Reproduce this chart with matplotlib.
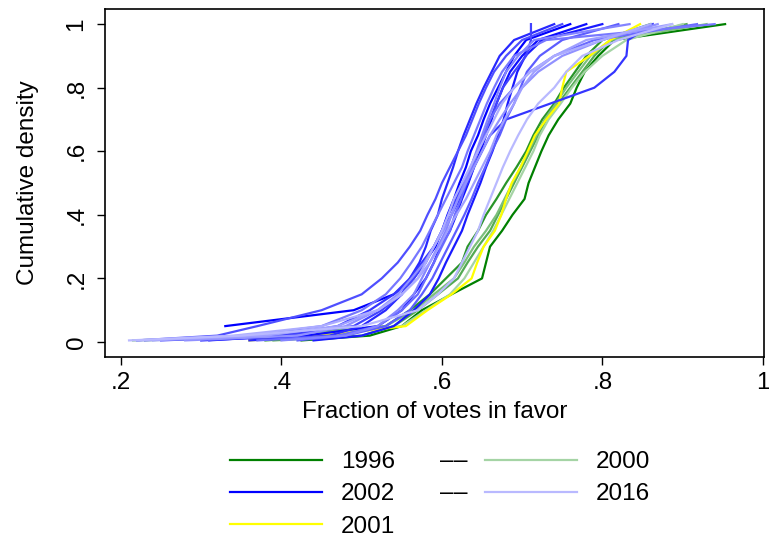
import numpy as np
import matplotlib
matplotlib.use("Agg")
import matplotlib.pyplot as plt
from matplotlib.lines import Line2D

plt.rcParams['font.family'] = ['Liberation Sans', 'DejaVu Sans']

# cumulative density levels shared by every year
levels = [0.005, 0.02, 0.05, 0.1, 0.15, 0.2, 0.25, 0.3, 0.35, 0.4, 0.45,
          0.5, 0.55, 0.6, 0.65, 0.7, 0.75, 0.8, 0.85, 0.9, 0.95, 1.0]

# fraction of votes in favor reached at each level
v1996 = [0.425, 0.51, 0.55, 0.575, 0.612, 0.65, 0.655, 0.66, 0.675, 0.688, 0.703,
         0.708, 0.716, 0.724, 0.733, 0.745, 0.76, 0.768, 0.778, 0.795, 0.815, 0.953]
v1997 = [0.38, 0.47, 0.53, 0.56, 0.585, 0.605, 0.625, 0.632, 0.645, 0.655, 0.668,
         0.68, 0.693, 0.705, 0.714, 0.725, 0.74, 0.752, 0.766, 0.78, 0.8, 0.86]
v1998 = [0.39, 0.5, 0.54, 0.57, 0.595, 0.62, 0.632, 0.645, 0.66, 0.67, 0.68,
         0.69, 0.7, 0.71, 0.72, 0.73, 0.745, 0.76, 0.775, 0.79, 0.81, 0.905]
v1999 = [0.215, 0.39, 0.53, 0.565, 0.59, 0.615, 0.628, 0.64, 0.655, 0.668, 0.678,
         0.688, 0.698, 0.708, 0.718, 0.728, 0.742, 0.755, 0.77, 0.785, 0.81, 0.93]
v2000 = [0.23, 0.43, 0.55, 0.58, 0.61, 0.628, 0.64, 0.652, 0.664, 0.674, 0.684,
         0.694, 0.704, 0.714, 0.722, 0.733, 0.748, 0.762, 0.778, 0.8, 0.83, 0.9]
v2001 = [0.36, 0.45, 0.555, 0.582, 0.612, 0.637, 0.644, 0.652, 0.666, 0.674, 0.68,
         0.687, 0.698, 0.707, 0.716, 0.73, 0.746, 0.75, 0.755, 0.784, 0.81, 0.847]
v2002 = [np.nan, np.nan, 0.33, 0.49, 0.54, 0.565, 0.578, 0.592, 0.6, 0.607, 0.615,
         0.622, 0.63, 0.636, 0.645, 0.652, 0.66, 0.67, 0.68, 0.69, 0.705, 0.76]
v2003 = [0.3, 0.43, 0.52, 0.55, 0.565, 0.58, 0.59, 0.598, 0.61, 0.618, 0.625,
         0.633, 0.64, 0.648, 0.655, 0.662, 0.668, 0.676, 0.685, 0.7, 0.72, 0.78]
v2004 = [0.44, 0.5, 0.54, 0.565, 0.585, 0.596, 0.605, 0.615, 0.625, 0.632, 0.64,
         0.648, 0.655, 0.663, 0.67, 0.677, 0.682, 0.688, 0.694, 0.704, 0.725, 0.8]
v2005 = [0.36, 0.46, 0.5, 0.53, 0.55, 0.56, 0.572, 0.58, 0.586, 0.595, 0.6,
         0.607, 0.614, 0.62, 0.627, 0.635, 0.643, 0.652, 0.662, 0.672, 0.69, 0.74]
v2006 = [0.31, 0.4, 0.47, 0.51, 0.54, 0.56, 0.575, 0.59, 0.6, 0.612, 0.622,
         0.632, 0.64, 0.65, 0.66, 0.68, 0.735, 0.79, 0.815, 0.83, 0.832, 0.863]
v2007 = [0.25, 0.4, 0.49, 0.525, 0.55, 0.565, 0.58, 0.59, 0.6, 0.608, 0.618,
         0.626, 0.636, 0.644, 0.652, 0.66, 0.668, 0.676, 0.69, 0.705, 0.711, 0.711]
v2008 = [0.22, 0.32, 0.37, 0.45, 0.5, 0.525, 0.545, 0.56, 0.573, 0.582, 0.592,
         0.6, 0.61, 0.62, 0.63, 0.638, 0.646, 0.655, 0.665, 0.68, 0.7, 0.75]
v2009 = [0.42, 0.48, 0.53, 0.56, 0.575, 0.588, 0.598, 0.608, 0.618, 0.628, 0.637,
         0.645, 0.654, 0.662, 0.672, 0.68, 0.69, 0.698, 0.706, 0.722, 0.75, 0.82]
v2010 = [0.37, 0.47, 0.52, 0.55, 0.57, 0.58, 0.59, 0.6, 0.61, 0.616, 0.624,
         0.63, 0.638, 0.645, 0.652, 0.66, 0.672, 0.69, 0.71, 0.74, 0.79, 0.918]
v2011 = [0.23, 0.36, 0.45, 0.5, 0.53, 0.548, 0.562, 0.575, 0.585, 0.595, 0.605,
         0.615, 0.625, 0.632, 0.64, 0.648, 0.656, 0.665, 0.675, 0.69, 0.73, 0.94]
v2012 = [0.4, 0.48, 0.52, 0.545, 0.565, 0.575, 0.585, 0.595, 0.605, 0.612, 0.62,
         0.628, 0.636, 0.643, 0.65, 0.657, 0.665, 0.672, 0.68, 0.695, 0.715, 0.834]
v2013 = [0.28, 0.42, 0.48, 0.52, 0.545, 0.562, 0.578, 0.59, 0.602, 0.612, 0.62,
         0.63, 0.64, 0.65, 0.66, 0.672, 0.685, 0.7, 0.72, 0.75, 0.8, 0.869]
v2014 = [0.24, 0.38, 0.47, 0.52, 0.55, 0.57, 0.585, 0.597, 0.607, 0.618, 0.63,
         0.64, 0.65, 0.66, 0.668, 0.678, 0.69, 0.7, 0.715, 0.74, 0.78, 0.887]
v2015 = [0.22, 0.34, 0.45, 0.52, 0.55, 0.57, 0.58, 0.59, 0.6, 0.608, 0.615,
         0.625, 0.635, 0.645, 0.655, 0.665, 0.675, 0.69, 0.71, 0.74, 0.8, 0.86]
v2016 = [0.21, 0.35, 0.5, 0.57, 0.595, 0.615, 0.625, 0.635, 0.645, 0.652, 0.66,
         0.668, 0.676, 0.685, 0.695, 0.706, 0.72, 0.74, 0.755, 0.775, 0.82, 0.887]

green_vals = [v1996, v1997, v1998, v1999, v2000]
blue_vals = [v2002, v2003, v2004, v2005, v2006, v2007, v2008, v2009, v2010,
             v2011, v2012, v2013, v2014, v2015, v2016]

x_ticks = [0.2, 0.4, 0.6, 0.8, 1.0]
x_ticklabels = ['.2', '.4', '.6', '.8', '1']
y_ticks = [0, 0.2, 0.4, 0.6, 0.8, 1.0]
y_ticklabels = ['0', '.2', '.4', '.6', '.8', '1']

GREEN_DARK, GREEN_LIGHT = (0, 128, 0), (165, 212, 165)
BLUE_DARK, BLUE_LIGHT = (0, 0, 255), (185, 185, 255)


def blend(c0, c1, t):
    return tuple((a + (b - a) * t) / 255 for a, b in zip(c0, c1))


fig = plt.figure(figsize=(7.69, 5.40), dpi=100)
ax = fig.add_axes([0.1365, 0.339, 0.857, 0.644])

lw = 1.6
for i, vals in enumerate(green_vals):
    ax.plot(vals, levels, color=blend(GREEN_DARK, GREEN_LIGHT, i / (len(green_vals) - 1)), lw=lw)
ax.plot(v2001, levels, color=(1, 1, 0), lw=lw)
for i, vals in enumerate(blue_vals):
    ax.plot(vals, levels, color=blend(BLUE_DARK, BLUE_LIGHT, i / (len(blue_vals) - 1)), lw=lw)

fs = 17.5
ax.set_xlim(0.18, 1.0015)
ax.set_ylim(-0.047, 1.047)
ax.set_xticks(x_ticks)
ax.set_xticklabels(x_ticklabels)
ax.set_yticks(y_ticks)
ax.set_yticklabels(y_ticklabels, rotation=90, va='center')
ax.tick_params(direction='out', length=5.5, width=1, labelsize=fs, colors='black')
ax.tick_params(axis='y', pad=7)
ax.tick_params(axis='x', pad=5.5)
for s in ax.spines.values():
    s.set_linewidth(1.2)
ax.set_xlabel('Fraction of votes in favor', fontsize=fs, labelpad=5)
ax.set_ylabel('Cumulative density', fontsize=fs, labelpad=19)

# legend: first/last year of each colour ramp, joined by a dash
handles = [Line2D([], [], color=blend(GREEN_DARK, GREEN_DARK, 0), lw=lw),
           Line2D([], [], color=blend(BLUE_DARK, BLUE_DARK, 0), lw=lw),
           Line2D([], [], color=(1, 1, 0), lw=lw),
           Line2D([], [], color=blend(GREEN_LIGHT, GREEN_LIGHT, 0), lw=lw),
           Line2D([], [], color=blend(BLUE_LIGHT, BLUE_LIGHT, 0), lw=lw)]
labels = ['1996', '2002', '2001', '2000', '2016']
em = fs * 100 / 72
fig.legend(handles, labels, ncol=2, loc='upper left', bbox_to_anchor=(0.299, 1 - 451 / 540),
           frameon=False, fontsize=fs, handlelength=92 / em, handletextpad=19 / em,
           columnspacing=90 / em, labelspacing=0.43, borderpad=0, borderaxespad=0)
for yy in (467, 499):
    for xx in (447, 461):
        fig.text(xx / 769, 1 - yy / 540, '–', fontsize=fs, ha='center', va='baseline')

fig.savefig('out.png', dpi=100)
